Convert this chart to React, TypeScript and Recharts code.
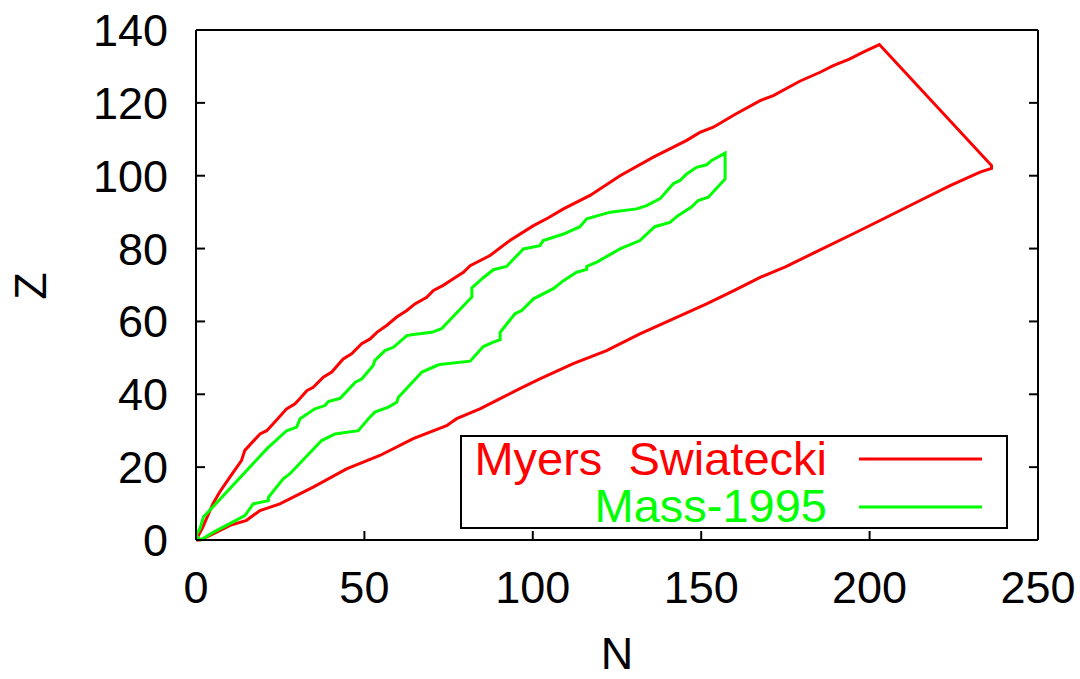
import { LineChart, Line, XAxis, YAxis } from 'recharts';

// contour points as [N, Z], walked around the closed loop
const myersSwiatecki: [number, number][] = [
  [0, 0], [2, 3.5], [5, 9.9], [7, 13.1], [10, 17.2], [13.5, 21.8], [14.5, 24.6], [19, 29.1],
  [21, 30], [24, 33], [26.9, 36], [29.4, 37.4], [31, 39], [32.9, 41], [34.8, 41.9], [37.8, 44.7],
  [40.3, 46.1], [43.7, 49.7], [46.2, 51.1], [49.2, 53.9], [51.7, 55.2], [53.7, 57], [56.6, 58.9],
  [59.6, 61.2], [62.6, 63], [65, 64.8], [68.5, 66.6], [70.5, 68.5], [73.4, 69.9], [76.4, 71.7],
  [79.4, 73.5], [81.4, 75.3], [87.3, 78.1], [93.2, 82.2], [100.2, 86.3], [104.5, 88.4],
  [109.1, 90.9], [117, 94.6], [125.9, 100], [135.8, 105.1], [145.7, 109.7], [149.6, 111.9],
  [153.6, 113.3], [160, 116.8], [167.5, 120.6], [171.4, 122], [179.4, 126], [185.3, 128.4],
  [189.2, 130.2], [194, 132], [198.1, 133.9], [202.9, 136],
  [236.2, 102.8], [236.2, 102],
  [232.8, 101], [223.9, 97.3], [215, 93.2], [203.1, 87.7], [195, 84], [185, 79.5], [175, 75],
  [167.5, 72.1], [160, 68.6], [151.6, 64.8], [141.7, 60.7], [131.8, 56.6], [121.9, 52],
  [112, 48.4], [102.1, 44.2], [96, 41.5], [90.3, 38.8], [84.3, 36], [77.4, 33.3], [74.4, 31.4],
  [64.5, 27.8], [54.6, 23.2], [44.7, 19.5], [34.8, 14.5], [24.9, 9.9], [19, 8.1], [15, 5.4],
  [10.1, 4], [5.1, 1.7], [1.2, 0], [0, 0],
];

const mass1995: [number, number][] = [
  [0, 1.2], [1.2, 3.2], [2.2, 6.3], [21, 25], [26.9, 30], [29.9, 31], [30.9, 33.3], [35.3, 36],
  [38.3, 36.9], [39.3, 38], [42.8, 38.9], [47.3, 43.3], [49.2, 44.2], [52.6, 47.9], [53.1, 49.3],
  [56.1, 52], [58.6, 52.9], [62.6, 56.1], [64.5, 56.4], [70, 57], [72.9, 58], [81.9, 66.7],
  [81.9, 69.2], [85.3, 72], [88.3, 74.2], [92.2, 75.1], [97.2, 79.9], [102.1, 80.8], [103.1, 82.2],
  [109.1, 84], [114, 86], [116, 88.2], [123, 90], [130.8, 90.9], [133.8, 91.8], [137.8, 93.7],
  [141.7, 97.8], [143.7, 98.7], [145.7, 100.5], [148.6, 102.3], [151.6, 103], [153.1, 104.2],
  [157.1, 106.2], [157.1, 99.1],
  [152.1, 94.1], [149.1, 93.2], [147.1, 91.4], [143.2, 89.1], [140.7, 87.2], [136.2, 86],
  [131.8, 82.2], [125.9, 79.9], [119, 76.3], [116, 75.1], [116, 74.3], [113, 73.5], [109.1, 71.2],
  [106.1, 69], [100.2, 66.2], [96.7, 63], [94.7, 62.1], [90.3, 57], [90.3, 55], [88.3, 54.3],
  [85.3, 53.1], [81.4, 49.1], [72.4, 48.2], [71.5, 47.9], [67.1, 46.1], [60.1, 39.2], [59.6, 37.8],
  [57.1, 36.5], [53.1, 35.1], [51.2, 33.3], [48.2, 30], [41.3, 29.1], [37.3, 27.3], [27.9, 18.2],
  [25.9, 16.8], [21.5, 11.7], [21.5, 10.8], [17, 9.9], [14.5, 6.7], [9.6, 4.3], [5.1, 2.1],
  [1.4, 0], [0, 1.2],
];

const xTicks = [0, 50, 100, 150, 200, 250];
const yTicks = [0, 20, 40, 60, 80, 100, 120, 140];
const seriesNames = ['Myers  Swiatecki', 'Mass-1995'];
const seriesColors = ['#ff0000', '#00ff00'];

const FONT = '"Liberation Sans", Arial, sans-serif';

const toRows = (pts: [number, number][]) => pts.map(([n, z]) => ({ n, z }));

const NoLabel = () => <g />;

const ZTitle = () => (
  <text
    x={30}
    y={286}
    transform="rotate(-90 30 286)"
    textAnchor="middle"
    dominantBaseline="central"
    fontSize={45}
    fontFamily={FONT}
    fill="#000"
  >
    Z
  </text>
);

export default function App() {
  const series = [toRows(myersSwiatecki), toRows(mass1995)];
  const axisLine = { stroke: '#000', strokeWidth: 2 };
  const tickLine = { stroke: '#000', strokeWidth: 2 };
  const tickFont = { fontSize: 45, fill: '#000', fontFamily: FONT };

  return (
    <div style={{ position: 'absolute', left: 0, top: 0, width: 1080, height: 679, background: '#fff' }}>
      <LineChart width={1080} height={679} margin={{ top: 29, right: 41, bottom: 0, left: 0 }}>
        <XAxis
          type="number"
          dataKey="n"
          domain={[0, 250]}
          ticks={xTicks}
          interval={0}
          height={139}
          axisLine={axisLine}
          tickLine={tickLine}
          tickSize={-9}
          tickMargin={40}
          tick={tickFont}
          label={{ value: 'N', position: 'insideBottom', offset: 10, fontSize: 45, fill: '#000', fontFamily: FONT }}
        />
        <XAxis
          xAxisId="top"
          orientation="top"
          type="number"
          domain={[0, 250]}
          ticks={xTicks}
          interval={0}
          height={1}
          allowDataOverflow
          axisLine={axisLine}
          tickLine={tickLine}
          tickSize={-9}
          tick={NoLabel}
        />
        <YAxis
          type="number"
          domain={[0, 140]}
          ticks={yTicks}
          interval={0}
          width={196}
          axisLine={axisLine}
          tickLine={tickLine}
          tickSize={-9}
          tickMargin={37}
          tick={tickFont}
          label={<ZTitle />}
        />
        <YAxis
          yAxisId="right"
          orientation="right"
          type="number"
          domain={[0, 140]}
          ticks={yTicks}
          interval={0}
          width={1}
          allowDataOverflow
          axisLine={axisLine}
          tickLine={tickLine}
          tickSize={-9}
          tick={NoLabel}
        />
        {series.map((rows, i) => (
          <Line
            key={seriesNames[i]}
            data={rows}
            dataKey="z"
            type="linear"
            stroke={seriesColors[i]}
            strokeWidth={3}
            dot={false}
            activeDot={false}
            isAnimationActive={false}
          />
        ))}
      </LineChart>
      {/* legend box: svg starts 12px above the frame so the first row's glyphs are not clipped */}
      <svg
        width={548}
        height={120}
        style={{ position: 'absolute', left: 460, top: 423 }}
        fontFamily={FONT}
        fontSize={47}
      >
        <rect x={1} y={13} width={546} height={92} fill="#fff" stroke="#000" strokeWidth={2} />
        {seriesNames.map((name, i) => (
          <g key={name}>
            <text x={367} y={52 + i * 47} textAnchor="end" fill={seriesColors[i]} style={{ whiteSpace: 'pre' }}>
              {name}
            </text>
            <line x1={399} x2={522} y1={36 + i * 48} y2={36 + i * 48} stroke={seriesColors[i]} strokeWidth={3} />
          </g>
        ))}
      </svg>
    </div>
  );
}
